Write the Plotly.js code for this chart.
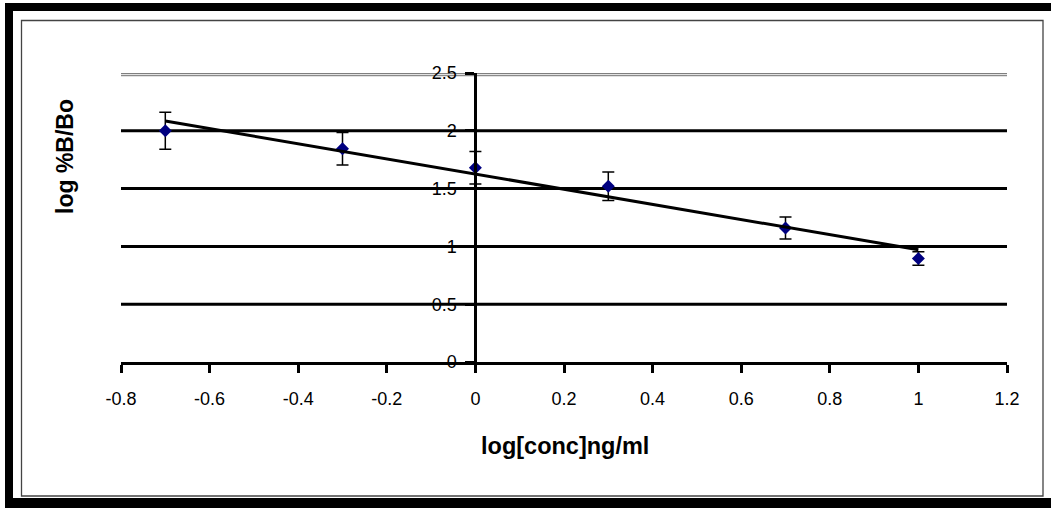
<!DOCTYPE html>
<html>
<head>
<meta charset="utf-8">
<script src="https://cdn.plot.ly/plotly-3.0.1.min.js"></script>
<style>
html,body{margin:0;padding:0;background:#fff;overflow:hidden;width:1051px;height:509px;}
#chart{position:absolute;left:0;top:0;width:1051px;height:509px;}
#frameTop{position:absolute;left:5px;top:3px;width:1046px;height:8px;background:#000;}
#frameLeft{position:absolute;left:5px;top:3px;width:8px;height:505px;background:#000;}
#frameBottom{position:absolute;left:5px;top:498px;width:1046px;height:10px;background:#000;}
</style>
</head>
<body>
<div id="chart"></div><div id="frameTop"></div><div id="frameLeft"></div><div id="frameBottom"></div>
<script>
// ---- data ----
var logConc = [-0.7, -0.3, 0, 0.3, 0.7, 1.0];
var logBBo = [2.00, 1.845, 1.68, 1.52, 1.16, 0.895];
var errBBo = [0.16, 0.14, 0.14, 0.123, 0.095, 0.058];
var xTickVals = [-0.8, -0.6, -0.4, -0.2, 0, 0.2, 0.4, 0.6, 0.8, 1, 1.2];
var xTickText = ['-0.8', '-0.6', '-0.4', '-0.2', '0', '0.2', '0.4', '0.6', '0.8', '1', '1.2'];
var yTickVals = [0, 0.5, 1, 1.5, 2, 2.5];
var yTickText = ['0', '0.5', '1', '1.5', '2', '2.5'];
var gridVals = [0.5, 1, 1.5, 2];

// linear trendline (least squares) from the data
var n = logConc.length, mx = 0, my = 0;
for (var i = 0; i < n; i++) { mx += logConc[i]; my += logBBo[i]; }
mx /= n; my /= n;
var sxx = 0, sxy = 0;
for (var i = 0; i < n; i++) { sxx += (logConc[i]-mx)*(logConc[i]-mx); sxy += (logConc[i]-mx)*(logBBo[i]-my); }
var slope = sxy / sxx, icpt = my - slope * mx;
var xMin = Math.min.apply(null, logConc), xMax = Math.max.apply(null, logConc);
var trendX = [xMin, xMax];
var trendY = [icpt + slope * xMin, icpt + slope * xMax];

var W = 1051, H = 509, ML = 121, MR = 44, MT = 73, MB = 147;
var PW = W - ML - MR, PH = H - MT - MB;
function px(x) { return (x - ML) / PW; }
function py(y) { return (H - MB - y) / PH; }

var FONT = '"Liberation Sans", Arial, sans-serif';

var shapes = [];
gridVals.forEach(function (g) {
  shapes.push({type: 'line', xref: 'x', yref: 'y', x0: xTickVals[0], x1: xTickVals[xTickVals.length-1], y0: g, y1: g,
    line: {color: '#000', width: 3}, layer: 'below'});
});
var topV = yTickVals[yTickVals.length-1];
shapes.push({type: 'line', xref: 'x', yref: 'y', x0: xTickVals[0], x1: xTickVals[xTickVals.length-1], y0: topV, y1: topV,
  line: {color: '#000', width: 1.2}, layer: 'below'});
shapes.push({type: 'line', xref: 'x', yref: 'y', ysizemode: 'pixel', yanchor: topV, x0: xTickVals[0], x1: xTickVals[xTickVals.length-1], y0: -2.5, y1: -2.5,
  line: {color: '#8a8a8a', width: 1.6}, layer: 'below'});
// inner thin frame
shapes.push({type: 'rect', xref: 'paper', yref: 'paper', x0: px(21.5), x1: px(1043), y0: py(20.5), y1: py(496),
  line: {color: '#444', width: 1.3}, fillcolor: 'rgba(0,0,0,0)', layer: 'below'});

var traces = [
  {x: logConc, y: logBBo, type: 'scatter', mode: 'markers',
   marker: {symbol: 'diamond', size: 10, color: '#000080'},
   error_y: {type: 'data', array: errBBo, visible: true, color: '#000', thickness: 1.5, width: 6},
   hoverinfo: 'x+y', showlegend: false, cliponaxis: false},
  {x: trendX, y: trendY, type: 'scatter', mode: 'lines',
   line: {color: '#000', width: 3}, hoverinfo: 'skip', showlegend: false, cliponaxis: false}
];

var layout = {
  width: W, height: H,
  margin: {l: ML, r: MR, t: MT, b: MB, pad: 0},
  paper_bgcolor: '#fff', plot_bgcolor: 'rgba(0,0,0,0)',
  font: {family: FONT, color: '#000', size: 18},
  showlegend: false,
  xaxis: {range: [xTickVals[0], xTickVals[xTickVals.length-1]], tickmode: 'array', tickvals: xTickVals, ticktext: xTickText,
    showgrid: false, zeroline: false, showline: true, linecolor: '#000', linewidth: 3,
    ticks: 'outside', ticklen: 8, tickwidth: 3, tickcolor: '#000', ticklabelstandoff: 10,
    tickfont: {family: FONT, size: 18, color: '#000'}, fixedrange: true},
  yaxis: {range: [yTickVals[0], topV], tickmode: 'array', tickvals: yTickVals, ticktext: yTickText,
    anchor: 'free', position: 0.4,
    showgrid: false, zeroline: false, showline: true, linecolor: '#000', linewidth: 3,
    ticks: 'outside', ticklen: 9, tickwidth: 3, tickcolor: '#000', ticklabelstandoff: 5,
    tickfont: {family: FONT, size: 18, color: '#000'}, fixedrange: true},
  shapes: shapes,
  annotations: [
    {text: 'log %B/Bo', xref: 'paper', yref: 'paper', x: px(65), y: py(157), xanchor: 'center', yanchor: 'middle',
     textangle: -90, showarrow: false, font: {family: FONT, size: 23, color: '#000', weight: 'bold'}},
    {text: 'log[conc]ng/ml', xref: 'paper', yref: 'paper', x: px(565), y: py(446), xanchor: 'center', yanchor: 'middle',
     showarrow: false, font: {family: FONT, size: 23.5, color: '#000', weight: 'bold'}}
  ]
};

Plotly.newPlot('chart', traces, layout, {displayModeBar: false, staticPlot: true});
</script>
</body>
</html>
